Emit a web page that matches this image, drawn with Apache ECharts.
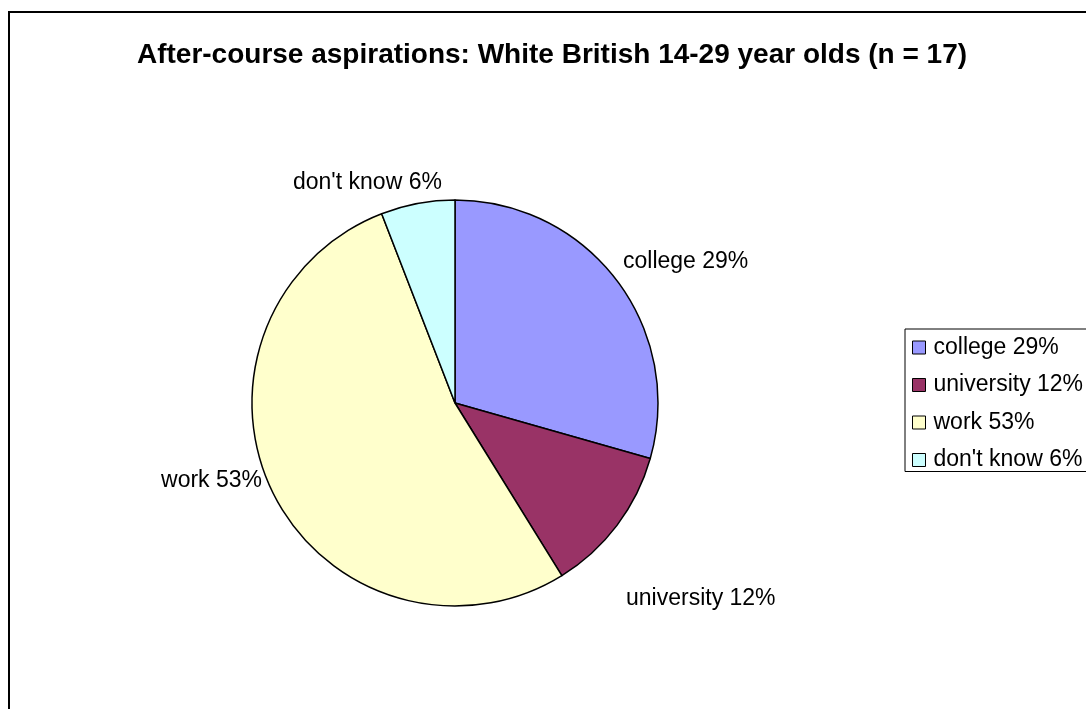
<!DOCTYPE html>
<html>
<head>
<meta charset="utf-8">
<script src="https://cdn.jsdelivr.net/npm/echarts@6/dist/echarts.min.js"></script>
<style>html,body{margin:0;padding:0;background:#fff;}#c{width:1086px;height:709px;}</style>
</head>
<body>
<div id="c"></div>
<script>
var titleText = "After-course aspirations: White British 14-29 year olds (n = 17)";
var categories = ["college", "university", "work", "don't know"];
var counts = [5, 2, 9, 1];
var sliceColors = ["#9999FF", "#993366", "#FFFFCC", "#CCFFFF"];
// label anchor placement (text layout only)
var labelAnchors = [
  {x: 623, y: 262, align: 'left'},
  {x: 626, y: 599, align: 'left'},
  {x: 262, y: 481, align: 'right'},
  {x: 293, y: 183, align: 'left'}
];

var total = counts.reduce(function(a, b){ return a + b; }, 0);
function pct(name){
  var i = categories.indexOf(name);
  return Math.round(counts[i] / total * 100);
}

var chart = echarts.init(document.getElementById('c'), null, {renderer: 'canvas'});
chart.setOption({
  backgroundColor: '#ffffff',
  animation: false,
  title: {
    text: titleText,
    left: 547, top: 36, textAlign: 'center',
    textStyle: {fontFamily: 'Liberation Sans, Arial, sans-serif', fontSize: 28, fontWeight: 'bold', color: '#000'}
  },
  graphic: [{
    type: 'rect',
    shape: {x: 9, y: 12, width: 1100, height: 720},
    style: {fill: 'none', stroke: '#000', lineWidth: 2}
  }],
  legend: {
    orient: 'vertical',
    left: 905, top: 329,
    padding: [7, 10, 0, 7],
    itemWidth: 13, itemHeight: 13, itemGap: 14.5,
    borderColor: '#000', borderWidth: 1,
    icon: 'rect',
    itemStyle: {borderColor: '#000', borderWidth: 1},
    textStyle: {fontFamily: 'Liberation Sans, Arial, sans-serif', fontSize: 23, color: '#000', padding: [0, 0, 0, 3]},
    formatter: function(name){ return name + ' ' + pct(name) + '%'; },
    data: categories
  },
  series: [{
    type: 'pie',
    center: [455, 403],
    radius: 203,
    startAngle: 90,
    clockwise: true,
    percentPrecision: 0,
    avoidLabelOverlap: false,
    itemStyle: {borderColor: '#000', borderWidth: 1.5},
    label: {
      show: true, position: 'outside',
      formatter: '{b} {d}%',
      fontFamily: 'Liberation Sans, Arial, sans-serif', fontSize: 23, color: '#000'
    },
    labelLine: {show: false},
    labelLayout: function(p){
      var a = labelAnchors[p.dataIndex];
      return {x: a.x, y: a.y, align: a.align, verticalAlign: 'middle'};
    },
    emphasis: {disabled: true},
    data: categories.map(function(c, i){
      return {name: c, value: counts[i], itemStyle: {color: sliceColors[i]}};
    })
  }]
});
</script>
</body>
</html>
